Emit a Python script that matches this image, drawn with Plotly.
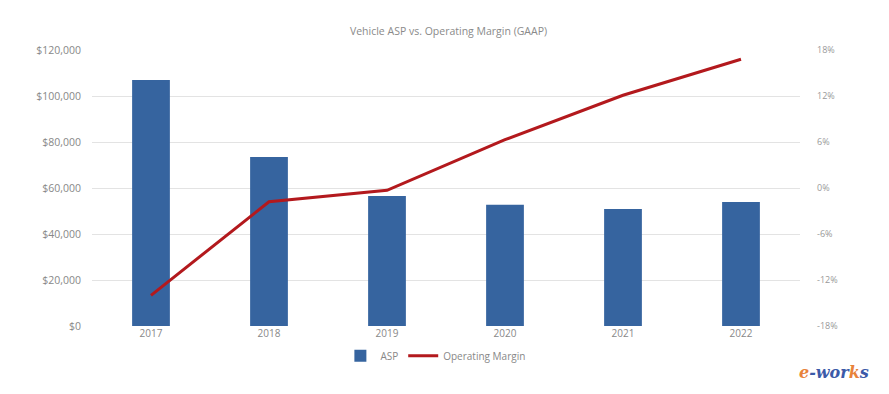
import plotly.graph_objects as go

years = ["2017", "2018", "2019", "2020", "2021", "2022"]
asp = [107000, 73500, 56500, 52700, 50900, 53900]
op_margin = [-14.0, -1.8, -0.3, 6.3, 12.1, 16.8]

left_ticks = [0, 20000, 40000, 60000, 80000, 100000, 120000]
left_labels = ["$0", "$20,000", "$40,000", "$60,000", "$80,000", "$100,000", "$120,000"]
right_ticks = [-18, -12, -6, 0, 6, 12, 18]
right_labels = ["-18%", "-12%", "-6%", "0%", "6%", "12%", "18%"]

fig = go.Figure()
fig.add_trace(go.Bar(
    x=years, y=asp, name="ASP", width=0.32,
    marker=dict(color="#36649f", line=dict(width=0)),
    yaxis="y"
))
fig.add_trace(go.Scatter(
    x=years, y=op_margin, name="Operating Margin", mode="lines",
    line=dict(color="#b3191d", width=3),
    yaxis="y2"
))

fig.update_layout(
    width=881, height=386,
    margin=dict(l=84, r=89, t=42, b=68, autoexpand=False),
    paper_bgcolor="white", plot_bgcolor="white",
    font=dict(family="Open Sans, sans-serif", color="#8a8a8a", size=10),
    title=dict(text="Vehicle ASP vs. Operating Margin (GAAP)", x=0.5, xanchor="center",
               y=0.94, yanchor="middle", font=dict(size=10.5, color="#8a8a8a")),
    xaxis=dict(showgrid=False, showline=False, ticks="", tickfont=dict(size=10, color="#888")),
    yaxis=dict(range=[0, 120000], tickvals=left_ticks, ticktext=left_labels,
               showgrid=True, gridcolor="#e3e3e3", gridwidth=1, zeroline=False,
               ticks="", tickfont=dict(size=10.5, color="#888"), ticklabelstandoff=10),
    yaxis2=dict(range=[-18, 18], tickvals=right_ticks, ticktext=right_labels,
                overlaying="y", side="right", showgrid=False, zeroline=False,
                ticks="", tickfont=dict(size=9, color="#999"), ticklabelstandoff=16),
    legend=dict(orientation="h", x=0.485, xanchor="center", y=-0.055, yanchor="top",
                font=dict(size=10, color="#888"), itemwidth=30, tracegroupgap=0),
    showlegend=True,
)

fig.add_annotation(text="<i><b><span style='color:#e8823a'>e</span>-wor<span style='color:#e8823a'>k</span>s</b></i>",
                   xref="paper", yref="paper", x=1.1, y=-0.17, xanchor="right", yanchor="middle",
                   showarrow=False, font=dict(family="DejaVu Serif, serif", size=16, color="#3b5aa8"))

fig.write_html("out.html")
